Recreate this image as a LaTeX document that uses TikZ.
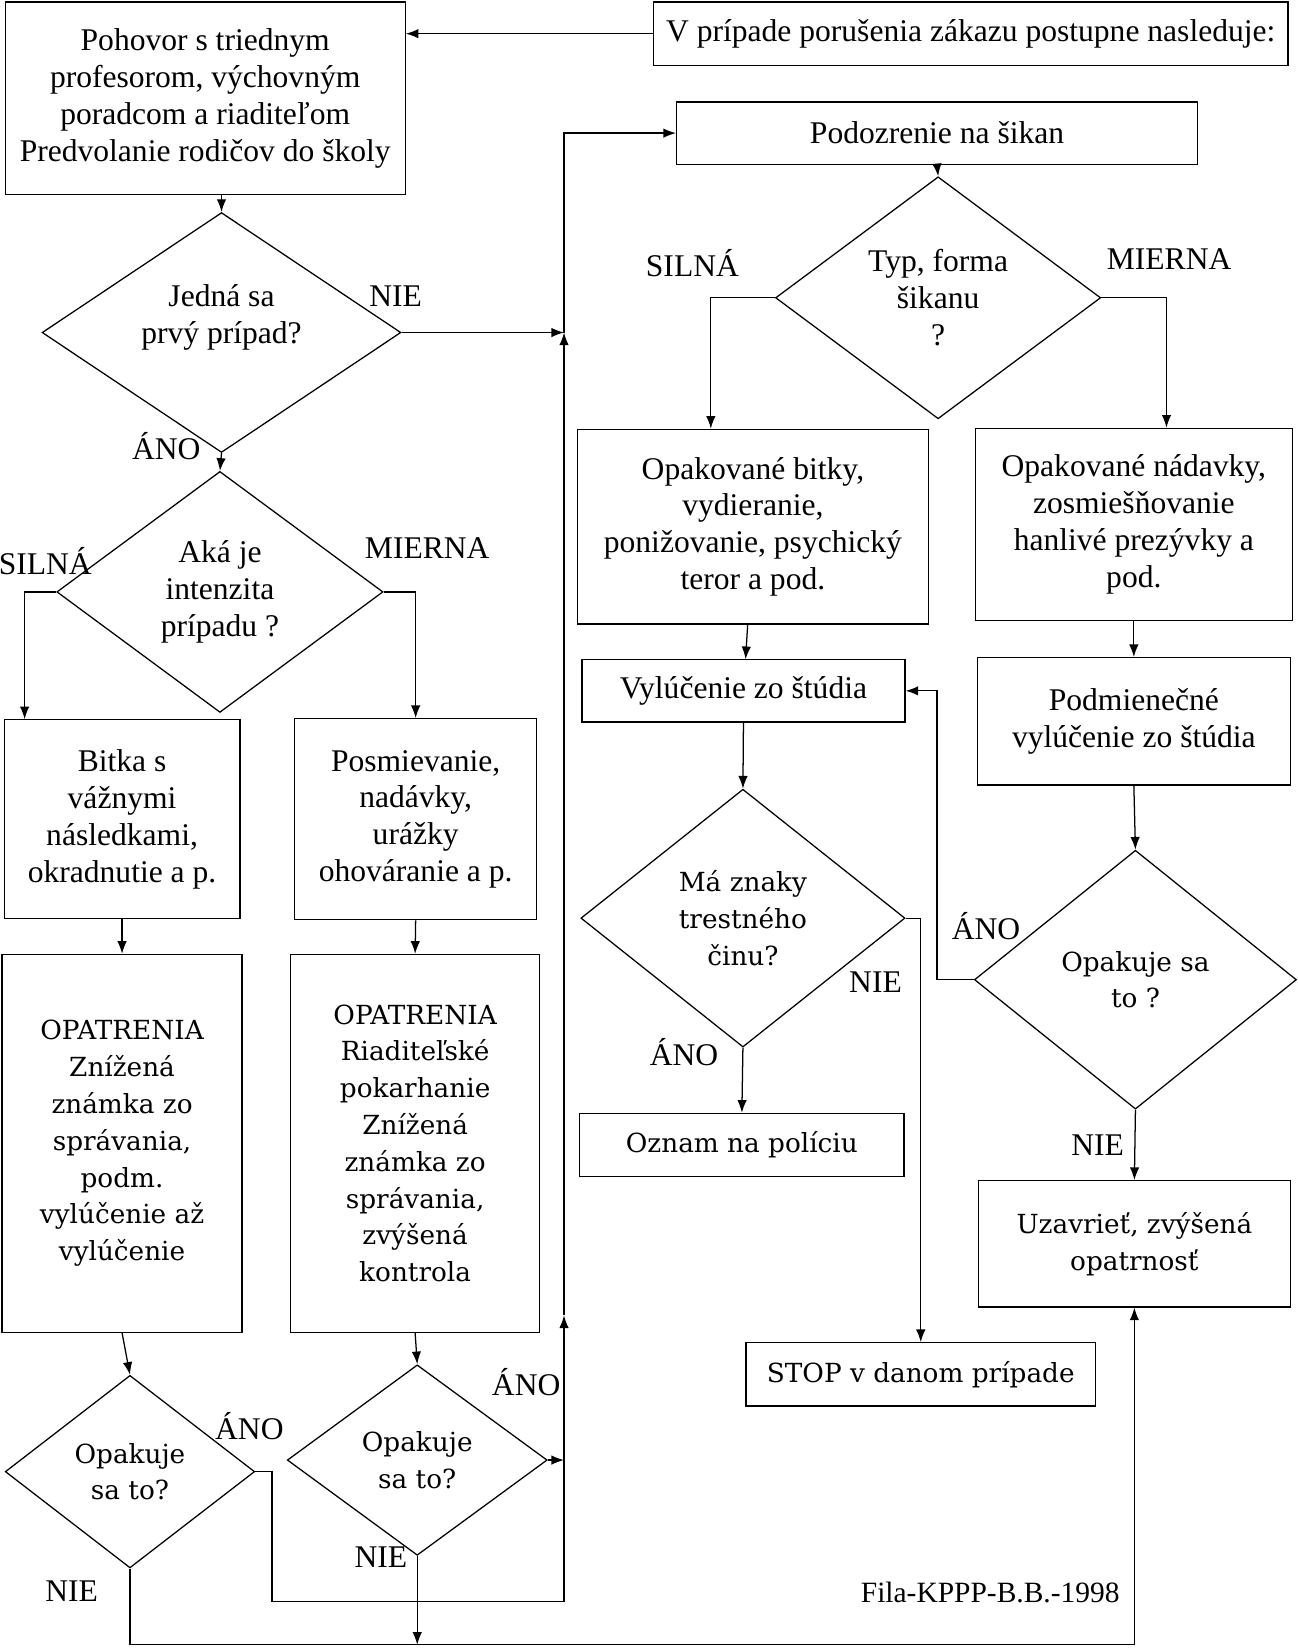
\documentclass[tikz,border=0pt]{standalone}
\usepackage{fontspec}
\setmainfont{Liberation Serif}
\newfontfamily\schfont{DejaVu Serif}
\usetikzlibrary{shapes.geometric,arrows.meta}

\begin{document}
\begin{tikzpicture}[x=1pt,y=-1pt,line width=1.2pt,>={Latex[length=12pt,width=9pt]},
  font=\fontsize{30}{35}\selectfont]
\tikzstyle{block}=[rectangle, draw, align=center, inner sep=0pt]
\tikzstyle{decision}=[diamond, draw, align=center, inner sep=0pt, aspect=1.3]
\tikzstyle{sch}=[font=\schfont\fontsize{25}{35}\selectfont]
\tikzstyle{answer}=[inner sep=0pt]
\useasboundingbox (0,0) rectangle (1233,1568);

\node[block, minimum width=380pt, minimum height=183pt] (pohovor) at (195,93.5) {Pohovor s triednym\\profesorom, výchovným\\poradcom a riaditeľom\\Predvolanie rodičov do školy};
\node[block, minimum width=603pt, minimum height=60pt] (zakaz) at (922.5,32) {V prípade porušenia zákazu postupne nasleduje:};
\node[block, minimum width=495pt, minimum height=59pt] (podozrenie) at (890.5,126.5) {Podozrenie na šikan};
\node[decision, minimum width=309pt, minimum height=230pt] (typ) at (891.5,283) {Typ, forma\\šikanu\\?};
\node[block, minimum width=333pt, minimum height=185pt] (bitky) at (715.5,500.5) {Opakované bitky,\\vydieranie,\\ponižovanie, psychický\\teror a pod.};
\node[block, minimum width=301pt, minimum height=183pt] (nadavky) at (1077.5,498.5) {Opakované nádavky,\\zosmiešňovanie\\hanlivé prezývky a\\pod.};
\node[block, minimum width=307pt, minimum height=59pt] (vylucenie) at (706.5,656.5) {Vylúčenie zo štúdia};
\node[block, minimum width=297pt, minimum height=121pt] (podmienecne) at (1077.5,685.5) {Podmienečné\\vylúčenie zo štúdia};
\node[decision, sch, minimum width=308pt, minimum height=245pt] (znaky) at (706,872.5) {Má znaky\\trestného\\činu?};
\node[block, sch, minimum width=308pt, minimum height=60pt] (policia) at (705,1088) {Oznam na políciu};
\node[block, sch, minimum width=332pt, minimum height=60pt] (stop) at (875,1306) {STOP v danom prípade};
\node[decision, sch, minimum width=306pt, minimum height=246pt] (opakR) at (1079,931) {Opakuje sa\\to ?};
\node[block, sch, minimum width=296pt, minimum height=120pt] (uzavriet) at (1078,1182) {Uzavrieť, zvýšená\\opatrnosť};

\node[decision, minimum width=341pt, minimum height=228pt] (prvy) at (210.5,316) {Jedná sa\\prvý prípad?\\\mbox{}};
\node[decision, minimum width=310pt, minimum height=229pt] (intenzita) at (209,562.5) {Aká je\\intenzita\\prípadu ?};
\node[block, minimum width=224pt, minimum height=189pt] (bitka) at (116,778.5) {Bitka s\\vážnymi\\následkami,\\okradnutie a p.};
\node[block, minimum width=230pt, minimum height=191pt] (posmech) at (395,778.5) {Posmievanie,\\nadávky,\\urážky\\ohováranie a p.};
\node[block, sch, minimum width=228pt, minimum height=359pt] (opatrenia1) at (116,1086.5) {OPATRENIA\\Znížená\\známka zo\\správania,\\podm.\\vylúčenie až\\vylúčenie};
\node[block, sch, minimum width=237pt, minimum height=359pt] (opatrenia2) at (394.5,1086.5) {OPATRENIA\\Riaditeľské\\pokarhanie\\Znížená\\známka zo\\správania,\\zvýšená\\kontrola};
\node[decision, sch, minimum width=237pt, minimum height=183pt] (opakL) at (123.5,1398.5) {Opakuje\\sa to?};
\node[decision, sch, minimum width=247pt, minimum height=181pt] (opakM) at (396.5,1387.5) {Opakuje\\sa to?};

\node[answer] (nie1) at (376,281) {NIE};
\node[answer] (ano1) at (158,424) {ÁNO};
\node[answer] (silna1) at (43,533) {SILNÁ};
\node[answer] (mierna1) at (406,521) {MIERNA};
\node[answer] (silna2) at (658,250) {SILNÁ};
\node[answer] (mierna2) at (1111,246) {MIERNA};
\node[answer] (nie2) at (832,933) {NIE};
\node[answer] (ano2) at (650,1000) {ÁNO};
\node[answer] (ano3) at (937,880) {ÁNO};
\node[answer] (nie3) at (1043,1088) {NIE};
\node[answer] (ano4) at (237,1355) {ÁNO};
\node[answer] (nie4) at (68,1512) {NIE};
\node[answer] (ano5) at (500,1313) {ÁNO};
\node[answer] (nie5) at (362,1480) {NIE};
\node[answer, font=\fontsize{28}{33}\selectfont] (podpis) at (941,1513) {Fila-KPPP-B.B.-1998};

\coordinate (spat) at (536,1522);
\coordinate (hore) at (536,1250);
\coordinate (stred) at (536,316);
\coordinate (dole) at (0,1563);

% left column
\draw[->] (zakaz.west) -- (zakaz.west -| pohovor.east);
\draw[->] (prvy.north |- pohovor.south) -- (prvy.north);
\draw[->] (prvy.east) -- (stred);
\draw[->] (prvy.south) -- (intenzita.north);
\draw[->] (intenzita.west) -| ([xshift=20pt]bitka.north west);
\draw[->] (intenzita.east) -| (posmech.north);
\draw[->] (bitka.south) -- (opatrenia1.north);
\draw[->] (posmech.south) -- (opatrenia2.north);
\draw[->] (opatrenia1.south) -- (opakL.north);
\draw[->] (opatrenia2.south) -- (opakM.north);
\draw[->] (opakL.east) -- ++(16,0) |- (spat) -- (hore);
\draw[->] (hore) -- (stred);
\draw[->] (stred) |- (podozrenie.west);
\draw[->] (opakM.east) -- (opakM.east -| spat);
\draw[->] (opakM.south) -- (opakM.south |- dole);
\draw[->] (opakL.south) -- (opakL.south |- dole) -| (uzavriet.south);

% right part
\draw[->] (podozrenie.south) -- (typ.north);
\draw[->] (typ.west) -| ([xshift=-40pt]bitky.north);
\draw[->] (typ.east) -| ([xshift=31pt]nadavky.north);
\draw[->] ([xshift=-5pt]bitky.south) -- ([xshift=2pt]vylucenie.north);
\draw[->] (vylucenie.south) -- (znaky.north);
\draw[->] (znaky.east) -| (stop.north);
\draw[->] (znaky.south) -- (policia.north);
\draw[->] (nadavky.south) -- (podmienecne.north);
\draw[->] (podmienecne.south) -- (opakR.north);
\draw[->] (opakR.west) -- ++(-35,0) |- (vylucenie.east);
\draw[->] (opakR.south) -- (uzavriet.north);
\end{tikzpicture}
\end{document}
